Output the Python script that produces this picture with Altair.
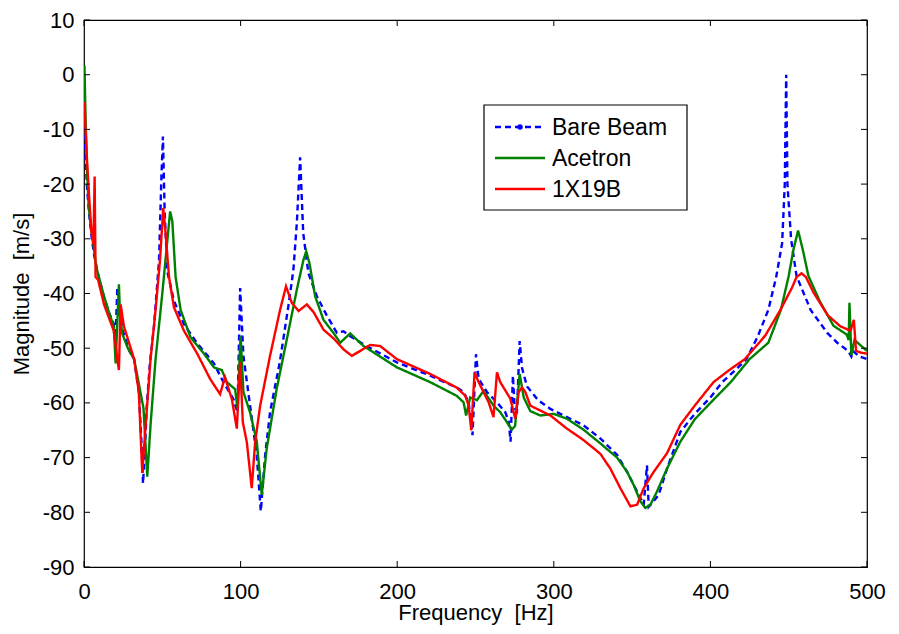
import altair as alt
import pandas as pd

# ---- data ----
bb_f = [0.3, 1, 2, 3.5, 5, 6.5, 8.5, 12.8, 16, 19, 20, 21.3, 22.5, 25, 29, 32, 35, 36.5, 37.7, 39, 40, 42,
        44.7, 47.9, 49.4, 50.4, 51.5, 53.2, 57.4, 63.8, 72, 83, 89, 95.4, 98, 99.7, 101.8, 106, 110.3, 112.9,
        115.7, 118.8, 125, 130.5, 133.7, 135.9, 138, 140, 143.3, 148.7, 155, 161.5, 165.7, 170, 178.5, 199.8,
        221, 238, 242.4, 245.6, 248.1, 250.3, 252, 257.3, 263.7, 269, 271.2, 272.4, 273.9, 275, 276.5, 278.2,
        279.7, 282.9, 290, 297.8, 319, 329.7, 340.4, 346.8, 353.2, 357.4, 359.5, 360.6, 363.7, 367, 372.3,
        380.8, 390, 400, 407.6, 416, 423, 430, 437, 442, 445.8, 447.5, 448.4, 449.2, 451.5, 455, 464, 474.6,
        481, 488, 490, 491, 495, 500]
bb_m = [-9, -15, -21, -26, -30, -33, -35.9, -40.7, -43.5, -45.6, -49, -38.9, -43, -47, -50.5, -52, -58, -66,
        -74.7, -68, -61, -53, -46, -34, -19, -11.3, -25, -36, -41.3, -45.6, -49, -52.8, -56.2, -59.3, -61.7,
        -39, -51.4, -60.4, -69.5, -79.8, -69.5, -61.7, -52.6, -42.3, -35.7, -27.2, -15.1, -29, -36.3, -40.5,
        -44, -47.2, -46.9, -47.8, -49.3, -52.6, -55, -57.2, -58, -59.9, -65.9, -51.1, -55.6, -58, -59.9,
        -61.7, -63.4, -67.1, -55, -61, -61.5, -48.7, -53.6, -57, -59.5, -61.1, -64.1, -66.5, -69.5, -72.6,
        -76.2, -78.6, -71.4, -79, -78, -76.8, -72, -65.3, -62, -59, -56.2, -54, -52, -48, -43, -37, -30.8,
        -20, 0, -20, -30, -36.8, -43, -47.2, -49, -50.5, -51.5, -50.5, -51.5, -52]

ac_f = [0.3, 1, 2, 3, 4.5, 6, 7.5, 9, 12.8, 16, 19, 20.2, 22.3, 23, 24.5, 28, 32, 36, 38, 40.4, 42.5, 45.7,
        50, 53, 55, 56.4, 58.5, 61.7, 68, 76.6, 83, 85.8, 88, 91.2, 96.5, 98, 100, 101.8, 106, 110.3, 113.5,
        116.7, 123, 129.5, 135.9, 140.1, 141.9, 144, 147.6, 152.9, 159.3, 163.6, 170, 178.5, 199.8, 221, 238,
        242.4, 244, 246.6, 250.9, 255.2, 261.5, 265.8, 270, 273.2, 275.3, 278.2, 280.8, 285, 291.4, 299.9,
        308.4, 319, 329.7, 340.4, 346.8, 351, 355.3, 358.5, 361.7, 365.9, 372.3, 380.8, 390, 400, 413, 425,
        437, 445, 450, 453, 456, 459, 462.6, 470, 478.6, 487, 488.3, 488.8, 490, 492, 496, 500]
ac_m = [1.7, -8, -18, -24, -28, -31, -34.5, -36.5, -40.5, -43.5, -46, -52.8, -38.3, -44, -47.4, -50, -52, -58,
        -61, -73.5, -64, -52, -40, -31, -25, -26.8, -37, -43, -48, -51, -53.5, -53.8, -54, -56.2, -57.5, -61,
        -47.7, -58, -61.7, -67, -76.8, -68.3, -57.5, -48.4, -39.3, -33.9, -32.3, -34.5, -40.5, -44.8, -47.2,
        -49, -47.3, -49.6, -53.5, -56.2, -58.7, -59.9, -62.3, -59, -59.5, -57.8, -60.5, -61.7, -63.5, -64.9,
        -64.2, -54.7, -59, -61.5, -62.3, -62, -62.9, -64.9, -67.4, -70, -72.6, -75, -78, -79.2, -78.6, -76.2,
        -72, -67.1, -63, -60, -56.2, -52, -49, -43, -36.8, -32, -28.5, -32, -36.8, -41.5, -45.9, -47.5, -48.5,
        -41.7, -51.3, -48.5, -49.5, -50.5]

rd_f = [0.3, 1, 2, 3.2, 4.7, 6, 6.8, 7.4, 9, 12.8, 16, 19, 21.3, 22.3, 23.4, 25.5, 32, 35, 37.2, 39.4, 42.5,
        45.7, 48.5, 50.6, 52, 54.3, 57.4, 63.8, 72.3, 80.5, 86.9, 90, 94.4, 97.6, 99.7, 101.4, 104, 106, 107.1,
        109.3, 112.5, 118.8, 125.2, 129, 132.7, 137, 142.3, 146.6, 152.9, 159.3, 165.7, 171, 176.4, 182.7,
        189.1, 199.8, 221, 238, 243.5, 245.6, 247.3, 249.4, 252, 258.4, 261.5, 263.7, 265.8, 272.2, 275.4,
        277.6, 279.7, 281.8, 285, 297.8, 308.4, 319, 329.7, 336.1, 342.5, 348.9, 353.2, 357.4, 363.8, 372.3,
        380.8, 390, 402, 412, 422, 435, 444.7, 452, 455, 458.2, 461, 466, 475, 483, 489.5, 491.6, 493, 496, 500]
rd_m = [-5, -10, -16, -22, -28.6, -31, -18.6, -37, -37.5, -42, -44.5, -46.8, -52, -54, -42, -46, -52, -58,
        -72.8, -64, -52, -43, -34, -24.4, -28.6, -37, -42.5, -46.8, -51, -55.6, -58.4, -55.3, -59.3, -64.7,
        -52.6, -63.5, -67.2, -72.6, -75.6, -67.1, -60.5, -51.4, -43, -38.7, -41.7, -43.2, -42, -43.4, -46.6,
        -48.2, -50.2, -51.4, -50.5, -49.4, -49.6, -52, -54.7, -57.2, -58.7, -60.5, -65, -54.4, -56.2, -59.9,
        -62.6, -54.4, -56.2, -59.2, -62.9, -58, -57.2, -58, -60.5, -62.3, -64.7, -66.8, -69.3, -72, -75.6,
        -78.9, -78.6, -75.6, -72.6, -69.2, -64, -60.5, -56.2, -54, -52, -47.7, -43, -39, -37, -36.3, -37,
        -39.9, -44, -46, -46.8, -44.8, -50.5, -50.8, -51]

series_names = ["Bare Beam", "Acetron", "1X19B"]
series_colors = ["#0000FF", "#008000", "#FF0000"]
series_dashes = [[6, 4], [1, 0], [1, 0]]
x_ticks = [0, 100, 200, 300, 400, 500]
y_ticks = [-90, -80, -70, -60, -50, -40, -30, -20, -10, 0, 10]

W, H = 783, 547
FONT = "Liberation Sans"

frames = []
for name, fs, ms in zip(series_names, [bb_f, ac_f, rd_f], [bb_m, ac_m, rd_m]):
    frames.append(pd.DataFrame({"f": fs, "m": ms, "series": name}))
df = pd.concat(frames, ignore_index=True)

xscale = alt.Scale(domain=[0, 500], nice=False)
yscale = alt.Scale(domain=[-90, 10], nice=False)
xaxis = alt.Axis(values=x_ticks, title="Frequency\u00a0 [Hz]", grid=False, ticks=False, domain=False,
                 labelPadding=14, labelFontSize=22, titleFontSize=22, titleFontWeight="normal",
                 titlePadding=0, labelFont=FONT, titleFont=FONT, labelColor="black", titleColor="black",
                 labelFlush=False, labelExpr="'' + datum.value")
yaxis = alt.Axis(values=y_ticks, title="Magnitude\u00a0 [m/s]", grid=False, ticks=False, domain=False,
                 labelPadding=10, labelFontSize=22, titleFontSize=22, titleFontWeight="normal",
                 titlePadding=9, labelFont=FONT, titleFont=FONT, labelColor="black", titleColor="black",
                 labelFlush=False, labelExpr="'' + datum.value")

X = alt.X("f:Q", scale=xscale, axis=xaxis)
Y = alt.Y("m:Q", scale=yscale, axis=yaxis)
color_enc = alt.Color("series:N", scale=alt.Scale(domain=series_names, range=series_colors), legend=None)
dash_enc = alt.StrokeDash("series:N", scale=alt.Scale(domain=series_names, range=series_dashes), legend=None)

base = alt.Chart(df)
layers = []
for name in series_names:
    layers.append(base.transform_filter(alt.datum.series == name)
                  .mark_line(strokeWidth=2.4, clip=True)
                  .encode(x=X, y=Y, color=color_enc, strokeDash=dash_enc, order=alt.Order("f:Q")))

xt_df = pd.DataFrame({"f": x_ticks})
yt_df = pd.DataFrame({"m": y_ticks})
tick_bottom = alt.Chart(xt_df).mark_rule(color="black", strokeWidth=1).encode(
    x=X, y=alt.value(H), y2=alt.value(H - 6))
tick_top = alt.Chart(xt_df).mark_rule(color="black", strokeWidth=1).encode(
    x=X, y=alt.value(0), y2=alt.value(6))
tick_left = alt.Chart(yt_df).mark_rule(color="black", strokeWidth=1).encode(
    y=Y, x=alt.value(0), x2=alt.value(6))
tick_right = alt.Chart(yt_df).mark_rule(color="black", strokeWidth=1).encode(
    y=Y, x=alt.value(W), x2=alt.value(W - 6))

# ---- legend box (MATLAB style) ----
one = pd.DataFrame({"a": [0]})
LX, LY, LW, LH = 400, 85, 203, 105
leg = [alt.Chart(one).mark_rect(fill="white", stroke="black", strokeWidth=1.2).encode(
    x=alt.value(LX), x2=alt.value(LX + LW), y=alt.value(LY), y2=alt.value(LY + LH))]
for i, (name, col, dash) in enumerate(zip(series_names, series_colors, series_dashes)):
    yy = LY + 22 + 31 * i
    leg.append(alt.Chart(one).mark_rule(color=col, strokeWidth=2.5, strokeDash=dash).encode(
        x=alt.value(LX + 11), x2=alt.value(LX + 61), y=alt.value(yy)))
    leg.append(alt.Chart(one).mark_text(text=name, align="left", baseline="middle", fontSize=23,
                                        font=FONT, color="black").encode(
        x=alt.value(LX + 68), y=alt.value(yy + 1)))
leg.append(alt.Chart(one).mark_point(filled=True, color=series_colors[0], size=30, opacity=1).encode(
    x=alt.value(LX + 36), y=alt.value(LY + 22)))

chart = alt.layer(*layers, tick_bottom, tick_top, tick_left, tick_right, *leg).properties(
    width=W, height=H,
    autosize=alt.AutoSizeParams(type="none"),
    padding={"left": 76, "top": 12, "right": 24, "bottom": 60},
    background="white",
).configure_view(stroke="black", strokeWidth=1.2)

chart.save("out.html", embed_options={"renderer": "svg", "actions": False})
